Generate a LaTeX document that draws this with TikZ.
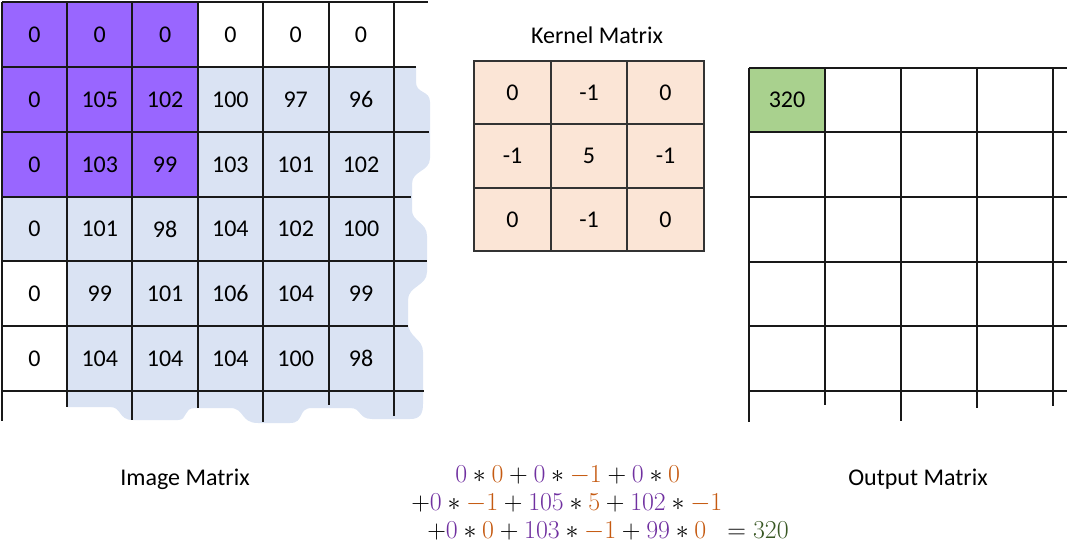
\RequirePackage{fix-cm}
\documentclass[tikz,border=0pt]{standalone}
\usepackage{fontspec}
\setmainfont{Carlito}
\definecolor{imgblue}{HTML}{DAE3F3}
\definecolor{winpurple}{HTML}{9966FF}
\definecolor{kernfill}{HTML}{FBE5D6}
\definecolor{outgreen}{HTML}{A9D18E}
\definecolor{pv}{HTML}{7030A0}
\definecolor{ov}{HTML}{C55A11}
\definecolor{gv}{HTML}{385723}
\newcommand{\Pv}[1]{\textcolor{pv}{#1}}
\newcommand{\Ov}[1]{\textcolor{ov}{#1}}
\begin{document}
\begin{tikzpicture}[x=0.75pt,y=-0.75pt,
  gridline/.style={line width=1.1pt,black!90},
  cellnum/.style={font=\fontsize{18}{21}\selectfont,inner sep=0pt,anchor=center},
  title/.style={font=\fontsize{18}{21}\selectfont,inner sep=0pt,anchor=center},
  formula/.style={font=\fontsize{19.4}{23}\selectfont,inner sep=0pt,anchor=base west}]
\useasboundingbox (0,0) rectangle (1067,544);
% ---------- image matrix background ----------
\fill[imgblue] (2,197) -- (2,261) -- (67,261) -- (67,407) -- (110,407)
  .. controls (122,407) and (118,420) .. (133,420) -- (178,420)
  .. controls (188,420) and (183,408) .. (195,408) -- (230,408)
  .. controls (245,408) and (240,423) .. (258,423) -- (290,423)
  .. controls (305,423) and (297,408) .. (312,408) -- (350,408)
  .. controls (362,408) and (358,419) .. (372,419) -- (410,419)
  .. controls (420,419) and (423,414) .. (423,404) -- (423,352)
  .. controls (423,338) and (408,338) .. (408,322) -- (408,300)
  .. controls (408,286) and (427,286) .. (427,272) -- (427,236)
  .. controls (427,222) and (412,222) .. (412,210) -- (412,184)
  .. controls (412,170) and (430,172) .. (430,158) -- (430,102)
  .. controls (430,90) and (416,94) .. (416,82) -- (416,67)
  -- (198,67) -- (198,197) -- cycle;
\fill[winpurple] (2,2) rectangle (198,197);
% horizontal lines
\foreach \yy/\xe in {2/428,67/416,132/429,197/411,261/427,326/408,391/424}
  \draw[gridline] (2,\yy) -- (\xe,\yy);
% vertical lines
\foreach \xx/\ye in {2/421,67/407,132/420,198/408,263/422,329/405,394/416}
  \draw[gridline] (\xx,2) -- (\xx,\ye);
% numbers
\foreach \row/\yc/\vals in {
  0/34.5/{0,0,0,0,0,0},
  1/99.5/{0,105,102,100,97,96},
  2/164.5/{0,103,99,103,101,102},
  3/229/{0,101,98,104,102,100},
  4/293.5/{0,99,101,106,104,99},
  5/358.5/{0,104,104,104,100,98}}{
  \foreach \v [count=\c from 0] in \vals {
    \pgfmathsetmacro{\xc}{34.5+65.3*\c}
    \node[cellnum] (img-\row-\c) at (\xc,\yc) {\v};
  }
}
\node[title] (imglabel) at (185,479) {Image Matrix};
% ---------- kernel ----------
\node[title] (kerlabel) at (597,35) {Kernel Matrix};
\fill[kernfill] (474,61) rectangle (704,251);
\draw[gridline,black!80] (474,61) rectangle (704,251);
\foreach \xx in {551,627} \draw[gridline,black!80] (\xx,61) -- (\xx,251);
\foreach \yy in {124,188} \draw[gridline,black!80] (474,\yy) -- (704,\yy);
\foreach \row/\yc/\vals in {0/92.5/{0,-1,0},1/156/{-1,5,-1},2/219.5/{0,-1,0}}{
  \foreach \v [count=\c from 0] in \vals {
    \pgfmathsetmacro{\xc}{512.5+76.5*\c}
    \node[cellnum] (ker-\row-\c) at (\xc,\yc) {\v};
  }
}
% ---------- output ----------
\fill[outgreen] (749,68) rectangle (825,132);
\foreach \yy in {68,132,197,262,326,391}
  \draw[gridline] (749,\yy) -- (1067,\yy);
\foreach \xx/\ye in {749/422,825/405,901/421,977/408,1053/406}
  \draw[gridline] (\xx,68) -- (\xx,\ye);
\node[cellnum] (out-0-0) at (787,100) {320};
\node[title] (outlabel) at (918,479) {Output Matrix};
% ---------- formula ----------
\node[formula] (f1) at (455,482) {$\Pv{0}\ast\Ov{0}+\Pv{0}\ast\Ov{-1}+\Pv{0}\ast\Ov{0}$};
\node[formula] (f2) at (411,510) {$+\Pv{0}\ast\Ov{-1}+\Pv{105}\ast\Ov{5}+\Pv{102}\ast\Ov{-1}$};
\node[formula] (f3) at (427,538) {$+\Pv{0}\ast\Ov{0}+\Pv{103}\ast\Ov{-1}+\Pv{99}\ast\Ov{0}$};
\node[formula] (f4) at (727,538) {$=\textcolor{gv}{320}$};
\end{tikzpicture}
\end{document}
